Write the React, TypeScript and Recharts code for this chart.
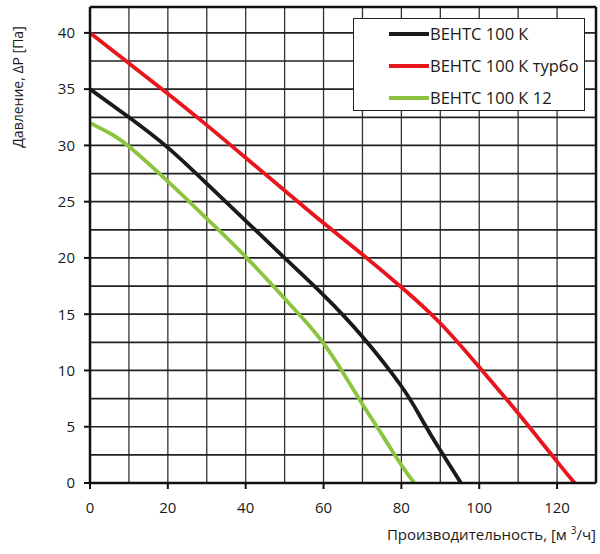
import {
  CartesianGrid,
  Legend,
  Line,
  LineChart,
  ReferenceLine,
  XAxis,
  YAxis,
} from 'recharts'

// flow [m3/h] and pressure [Pa]
const flowK = [0, 10, 20, 30, 40, 50, 60, 70, 80, 85, 90, 95.3]
const presK = [35, 32.5, 29.8, 26.6, 23.3, 20.0, 16.7, 13.0, 8.6, 5.8, 2.9, 0]

const flowTurbo = [0, 10, 20, 30, 40, 50, 60, 70, 80, 90, 100, 110, 120, 124.5]
const presTurbo = [40, 37.3, 34.6, 31.8, 28.9, 26.0, 23.1, 20.3, 17.4, 14.2, 10.3, 6.2, 1.9, 0]

const flowK12 = [0, 5, 10, 20, 30, 40, 50, 55, 60, 65, 70, 75, 80, 83.3]
const presK12 = [32, 31.1, 29.9, 26.8, 23.5, 20.1, 16.4, 14.5, 12.4, 9.8, 7.0, 4.3, 1.6, 0]

const seriesNames = ['ВЕНТС 100 К', 'ВЕНТС 100 К турбо', 'ВЕНТС 100 К 12']
const seriesColors = ['#1a1a1a', '#e8161c', '#8cc43f']

const xTicks = [0, 20, 40, 60, 80, 100, 120]
const yTicks = [0, 5, 10, 15, 20, 25, 30, 35, 40]
const xGrid = [10, 20, 30, 40, 50, 60, 70, 80, 90, 100, 110, 120]
const yGrid = [2.5, 5, 7.5, 10, 12.5, 15, 17.5, 20, 22.5, 25, 27.5, 30, 32.5, 35, 37.5, 40]
const xMax = 130
const yMax = 42.3

const FONT = '"Open Sans", "Noto Sans", sans-serif'

const zip = (xs: number[], ys: number[]) => xs.map((q, i) => ({ q, p: ys[i] }))
const seriesData = [zip(flowK, presK), zip(flowTurbo, presTurbo), zip(flowK12, presK12)]

function LegendBox() {
  return (
    <div
      style={{
        position: 'relative',
        width: 232,
        height: 93,
        boxSizing: 'border-box',
        border: '1.5px solid #222',
        background: '#fff',
        fontFamily: FONT,
        fontSize: 16.5,
        color: '#1a1a1a',
      }}
    >
      {seriesNames.map((name, i) => (
        <div key={name}>
          <div
            style={{
              position: 'absolute',
              left: 35,
              top: 13 + i * 32,
              width: 40,
              height: 4,
              background: seriesColors[i],
            }}
          />
          <div style={{ position: 'absolute', left: 76, top: 3 + i * 32, lineHeight: '24px', whiteSpace: 'nowrap' }}>
            {name}
          </div>
        </div>
      ))}
    </div>
  )
}

const YLabel = () => (
  <text
    x={17}
    y={87}
    transform="rotate(-90 17 87)"
    textAnchor="middle"
    dominantBaseline="central"
    fontFamily={FONT}
    fontSize={14}
    fill="#1a1a1a"
  >
    Давление, ΔP [Па]
  </text>
)

const XLabel = () => (
  <text x={596} y={540} textAnchor="end" fontFamily={FONT} fontSize={15} fill="#1a1a1a">
    Производительность, [м <tspan dy={-6} fontSize={10}>3</tspan>
    <tspan dy={6}>/ч]</tspan>
  </text>
)

export default function App() {
  return (
    <div style={{ position: 'absolute', left: 0, top: 0, background: '#fff' }}>
      <LineChart width={600} height={554} margin={{ top: 7, right: 4, left: 30, bottom: 41 }}>
        <CartesianGrid horizontal={false} verticalValues={xGrid} stroke="#333" strokeWidth={1.3} />
        <CartesianGrid vertical={false} horizontalValues={yGrid} stroke="#222" strokeWidth={1.7} />
        <XAxis
          type="number"
          dataKey="q"
          domain={[0, xMax]}
          ticks={xTicks}
          allowDataOverflow
          height={30}
          tickSize={6}
          tickMargin={13}
          tick={{ fontFamily: FONT, fontSize: 15, fill: '#1a1a1a' }}
          tickLine={{ stroke: '#111', strokeWidth: 2 }}
          axisLine={{ stroke: '#111', strokeWidth: 2.5 }}
          label={<XLabel />}
        />
        <YAxis
          type="number"
          dataKey="p"
          domain={[0, yMax]}
          ticks={yTicks}
          allowDataOverflow
          width={60}
          tickSize={6}
          tickMargin={9}
          tick={{ fontFamily: FONT, fontSize: 15, fill: '#1a1a1a' }}
          tickLine={{ stroke: '#111', strokeWidth: 2 }}
          axisLine={{ stroke: '#111', strokeWidth: 2.5 }}
          label={<YLabel />}
        />
        <ReferenceLine y={yMax} stroke="#111" strokeWidth={2.5} />
        <ReferenceLine x={xMax} stroke="#111" strokeWidth={2.5} />
        {seriesData.map((d, i) => (
          <Line
            key={seriesNames[i]}
            data={d}
            dataKey="p"
            name={seriesNames[i]}
            type="natural"
            stroke={seriesColors[i]}
            strokeWidth={3.8}
            dot={false}
            activeDot={false}
            isAnimationActive={false}
          />
        ))}
        <Legend
          layout="vertical"
          align="center"
          verticalAlign="middle"
          content={<LegendBox />}
          wrapperStyle={{ position: 'absolute', left: 353, top: 18, width: 232, height: 93 }}
        />
      </LineChart>
    </div>
  )
}
